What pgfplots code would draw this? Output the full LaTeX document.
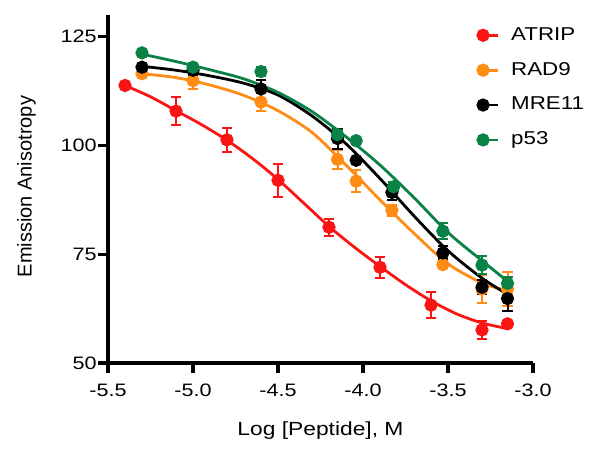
\documentclass[border=0pt]{standalone}
\usepackage{fontspec}
\setmainfont{Liberation Sans}[FakeStretch=1.2]
\newfontfamily\ylabfont{Liberation Sans}
\usepackage{pgfplots}
\pgfplotsset{compat=1.18}

\definecolor{cRed}{RGB}{250,20,20}
\definecolor{cOrange}{RGB}{255,140,20}
\definecolor{cGreen}{RGB}{10,130,70}

\begin{document}
\begin{tikzpicture}
\begin{axis}[
  name=ax,
  scale only axis,
  width=212.5bp, height=174bp,
  xmin=-5.5, xmax=-3.0,
  ymin=50, ymax=130,
  xtick={-5.5,-5.0,-4.5,-4.0,-3.5,-3.0},
  xticklabels={-5.5,-5.0,-4.5,-4.0,-3.5,-3.0},
  ytick={50,75,100,125},
  axis x line*=bottom, axis y line*=left,
  axis line style={line width=1.6bp},
  tick style={line width=1.6bp, black},
  major tick length=5bp,
  tick align=outside,
  /pgf/number format/assume math mode=true,
  ticklabel style={font=\fontsize{9bp}{11bp}\selectfont},
  yticklabel style={inner xsep=0.5bp},
  xticklabel style={yshift=-2bp},
  xlabel={Log [Peptide], M},
  ylabel={Emission Anisotropy},
  xlabel style={font=\fontsize{9.5bp}{11bp}\selectfont, at={(axis description cs:0.5,-0.208)}, anchor=base},
  ylabel style={font=\ylabfont\fontsize{10bp}{12bp}\selectfont, at={(axis description cs:-0.18,0.507)}, anchor=base},
  clip=false,
  legend image code/.code={\path (0,0) -- (10bp,0); \fill[#1] (2.6bp,0) circle (2.6bp);},
  legend cell align=left,
  legend style={at={(0.866,0.9655)}, anchor=north west, draw=none, fill=none,
    inner sep=0pt, row sep=9.5bp, column sep=6bp,
    font=\fontsize{9.3bp}{11bp}\selectfont,
    nodes={inner sep=0pt}},
  every axis plot/.append style={line width=1.4bp},
  error bars/error bar style={line width=1bp},
  error bars/error mark options={rotate=90, mark size=2.6bp, line width=1bp},
]

% ATRIP
\addplot[cRed, smooth, forget plot] coordinates {
  (-5.4,113.8) (-5.25,111.2) (-5.1,108.0) (-4.95,104.8) (-4.8,101.2)
  (-4.65,97.0) (-4.5,92.2) (-4.35,86.8) (-4.2,81.4) (-4.05,76.6)
  (-3.9,72.2) (-3.75,68.0) (-3.6,64.3) (-3.45,61.3) (-3.3,59.2) (-3.15,57.9)
};
\addplot[cRed, only marks, mark=*, mark size=2.6bp,
  error bars/.cd, y dir=both, y explicit] coordinates {
  (-5.4,113.8) +- (0,0)
  (-5.1,107.9) +- (0,3.2)
  (-4.8,101.3) +- (0,2.8)
  (-4.5,92.0) +- (0,3.8)
  (-4.2,81.2) +- (0,2.0)
  (-3.9,72.0) +- (0,2.4)
  (-3.6,63.3) +- (0,3.0)
  (-3.3,57.6) +- (0,2.0)
  (-3.15,59.0) +- (0,0)
};
\addlegendentry{ATRIP}

% RAD9
\addplot[cOrange, smooth, forget plot] coordinates {
  (-5.3,116.5) (-5.1,115.6) (-4.9,113.9) (-4.7,111.5) (-4.5,108.0)
  (-4.3,103.0) (-4.1,95.5) (-3.9,87.5) (-3.7,79.8) (-3.5,72.8)
  (-3.3,68.4) (-3.15,66.6)
};
\addplot[cOrange, only marks, mark=*, mark size=2.6bp,
  error bars/.cd, y dir=both, y explicit] coordinates {
  (-5.3,116.5) +- (0,0.8)
  (-5.0,114.9) +- (0,1.9)
  (-4.6,110.0) +- (0,2.1)
  (-4.15,96.8) +- (0,2.1)
  (-4.04,91.8) +- (0,2.5)
  (-3.83,85.1) +- (0,1.2)
  (-3.53,72.6) +- (0,0.8)
  (-3.3,67.0) +- (0,3.3)
  (-3.15,67.0) +- (0,4.0)
};
\addlegendentry{RAD9}

% MRE11
\addplot[black, smooth, forget plot] coordinates {
  (-5.3,118.2) (-5.1,117.3) (-4.9,116.0) (-4.7,114.3) (-4.5,111.6)
  (-4.3,106.8) (-4.1,100.4) (-3.9,92.4) (-3.7,83.8) (-3.5,75.8)
  (-3.3,69.5) (-3.15,65.8)
};
\addplot[black, only marks, mark=*, mark size=2.6bp,
  error bars/.cd, y dir=both, y explicit] coordinates {
  (-5.3,118.0) +- (0,0.8)
  (-5.0,117.3) +- (0,1.0)
  (-4.6,113.0) +- (0,2.0)
  (-4.15,101.6) +- (0,2.3)
  (-4.04,96.6) +- (0,0.8)
  (-3.83,89.2) +- (0,1.8)
  (-3.53,75.3) +- (0,1.5)
  (-3.3,67.4) +- (0,1.6)
  (-3.15,64.8) +- (0,2.8)
};
\addlegendentry{MRE11}

% p53
\addplot[cGreen, smooth, forget plot] coordinates {
  (-5.3,121.0) (-5.1,119.3) (-4.9,117.4) (-4.7,115.3) (-4.5,112.2)
  (-4.3,107.8) (-4.1,102.0) (-3.9,95.5) (-3.7,88.0) (-3.5,80.0)
  (-3.3,73.5) (-3.15,68.8)
};
\addplot[cGreen, only marks, mark=*, mark size=2.6bp,
  error bars/.cd, y dir=both, y explicit] coordinates {
  (-5.3,121.3) +- (0,0.5)
  (-5.0,118.0) +- (0,0.5)
  (-4.6,117.0) +- (0,1.0)
  (-4.15,102.5) +- (0,1.0)
  (-4.04,101.1) +- (0,0.8)
  (-3.82,90.5) +- (0,1.0)
  (-3.53,80.3) +- (0,1.8)
  (-3.3,72.5) +- (0,2.0)
  (-3.15,68.3) +- (0,1.5)
};
\addlegendentry{p53}

\end{axis}
\pgfresetboundingbox
\path[use as bounding box] ([xshift=-54bp,yshift=-44bp]ax.south west) rectangle ([xshift=34bp,yshift=7.5bp]ax.north east);
\end{tikzpicture}
\end{document}
